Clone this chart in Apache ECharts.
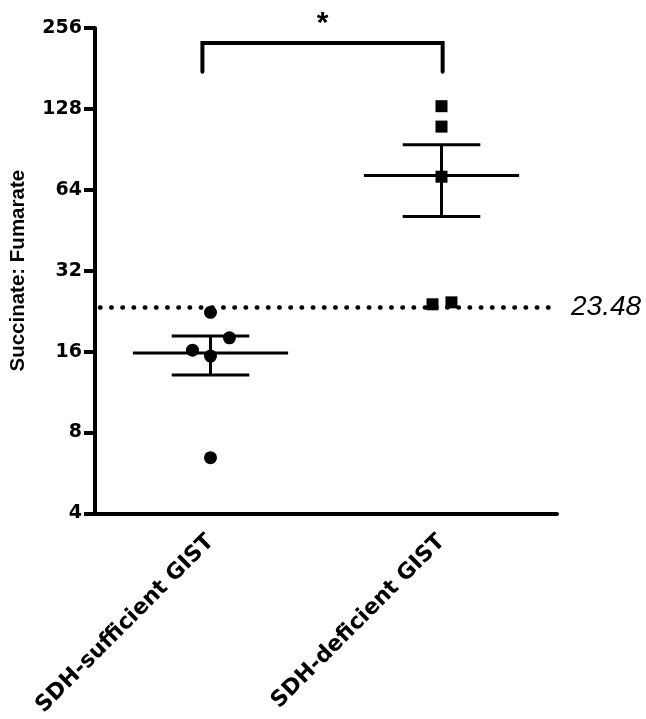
<!DOCTYPE html>
<html><head><meta charset="utf-8">
<script src="https://cdn.jsdelivr.net/npm/echarts@6/dist/echarts.min.js"></script>
<style>html,body{margin:0;padding:0;background:#fff}#c{width:646px;height:719px}</style>
</head><body><div id="c"></div>
<script>
const categories = ['SDH-sufficient GIST', 'SDH-deficient GIST'];
const sufficientValues = [22.4, 16.2, 18.0, 15.4, 6.45];
const sufficientX = [0, -0.078, 0.082, 0, 0];
const deficientValues = [131, 110, 71.6, 24.0, 24.4];
const deficientX = [1, 1, 1, 0.961, 1.043];
const groupMeans = [15.8, 72.4];
const groupLower = [13.1, 50.9];
const groupUpper = [18.3, 94.2];
const thresholdValue = 23.48;
const bracketEnds = [-0.035, 1.005];
const bracketTop = 225;
const bracketBottom = 176;
const significance = '*';
const yTitle = 'Succinate: Fumarate';

const tickFont = { fontFamily: 'DejaVu Sans', fontWeight: 'bold', fontSize: 19, color: '#000' };
const chart = echarts.init(document.getElementById('c'), null, { renderer: 'canvas' });

const errData = groupMeans.map((m, i) => [i, m, groupLower[i], groupUpper[i]]);

const option = {
  animation: false,
  backgroundColor: '#fff',
  grid: { left: 93, right: 89, top: 28, bottom: 204 },
  xAxis: [
    {
      type: 'category', data: categories, boundaryGap: true,
      axisLine: { onZero: false, lineStyle: { color: '#000', width: 4 } },
      axisTick: { alignWithLabel: true, length: 12, lineStyle: { color: '#000', width: 4 } },
      axisLabel: Object.assign({ rotate: 45, margin: 25, interval: 0 }, tickFont, { fontSize: 22 }),
      splitLine: { show: false }
    },
    { type: 'value', min: -0.5, max: 1.5, show: false, axisLine: { onZero: false } }
  ],
  yAxis: {
    type: 'log', logBase: 2, min: 4, max: 256,
    name: yTitle, nameLocation: 'middle', nameGap: 66,
    nameTextStyle: { fontFamily: 'Liberation Sans', fontWeight: 'bold', fontSize: 20.5, color: '#000' },
    axisLine: { show: true, onZero: false, lineStyle: { color: '#000', width: 4 } },
    axisTick: { show: true, length: 11, lineStyle: { color: '#000', width: 4 } },
    axisLabel: Object.assign({ margin: 13 }, tickFont),
    splitLine: { show: false }
  },
  series: [
    {
      type: 'scatter', xAxisIndex: 1, symbol: 'circle', symbolSize: 13,
      itemStyle: { color: '#000', opacity: 1 },
      data: sufficientValues.map((v, i) => [sufficientX[i], v]),
      markLine: {
        silent: true, symbol: 'none',
        lineStyle: { color: '#000', width: 4.5, type: [0.5, 10.7], cap: 'round', opacity: 1, dashOffset: -5 },
        label: {
          show: true, position: 'end', distance: 14,
          formatter: String(thresholdValue),
          fontFamily: 'Liberation Sans', fontStyle: 'italic', fontSize: 28, color: '#000'
        },
        data: [{ yAxis: thresholdValue }]
      }
    },
    {
      type: 'scatter', xAxisIndex: 1, symbol: 'rect', symbolSize: 12,
      itemStyle: { color: '#000', opacity: 1 },
      data: deficientValues.map((v, i) => [deficientX[i], v])
    },
    {
      type: 'custom', xAxisIndex: 1, clip: false, z: 5,
      data: errData,
      renderItem: function (params, api) {
        const x = api.value(0);
        const m = api.coord([x, api.value(1)]);
        const lo = api.coord([x, api.value(2)]);
        const hi = api.coord([x, api.value(3)]);
        const meanL = api.coord([x - 0.336, api.value(1)])[0];
        const meanR = api.coord([x + 0.336, api.value(1)])[0];
        const capL = api.coord([x - 0.168, api.value(1)])[0];
        const capR = api.coord([x + 0.168, api.value(1)])[0];
        const st = { stroke: '#000', lineWidth: 3 };
        return { type: 'group', children: [
          { type: 'line', shape: { x1: meanL, y1: m[1], x2: meanR, y2: m[1] }, style: st },
          { type: 'line', shape: { x1: m[0], y1: lo[1], x2: m[0], y2: hi[1] }, style: st },
          { type: 'line', shape: { x1: capL, y1: hi[1], x2: capR, y2: hi[1] }, style: st },
          { type: 'line', shape: { x1: capL, y1: lo[1], x2: capR, y2: lo[1] }, style: st }
        ]};
      }
    },
    {
      type: 'custom', xAxisIndex: 1, clip: false, z: 5,
      data: [[bracketEnds[0], bracketEnds[1], bracketTop, bracketBottom]],
      renderItem: function (params, api) {
        const a = api.coord([api.value(0), api.value(2)]);
        const b = api.coord([api.value(1), api.value(2)]);
        const aB = api.coord([api.value(0), api.value(3)]);
        const bB = api.coord([api.value(1), api.value(3)]);
        return { type: 'group', children: [
          { type: 'polyline', shape: { points: [[aB[0], aB[1]], [a[0], a[1]], [b[0], b[1]], [bB[0], bB[1]]] },
            style: { stroke: '#000', lineWidth: 4, fill: null, lineJoin: 'miter', lineCap: 'round' } },
          { type: 'text', style: { text: significance, x: (a[0] + b[0]) / 2, y: a[1] - 19,
            align: 'center', verticalAlign: 'middle',
            font: 'bold 30px "Liberation Sans"', fill: '#000' } }
        ]};
      }
    }
  ]
};
chart.setOption(option);
</script></body></html>
